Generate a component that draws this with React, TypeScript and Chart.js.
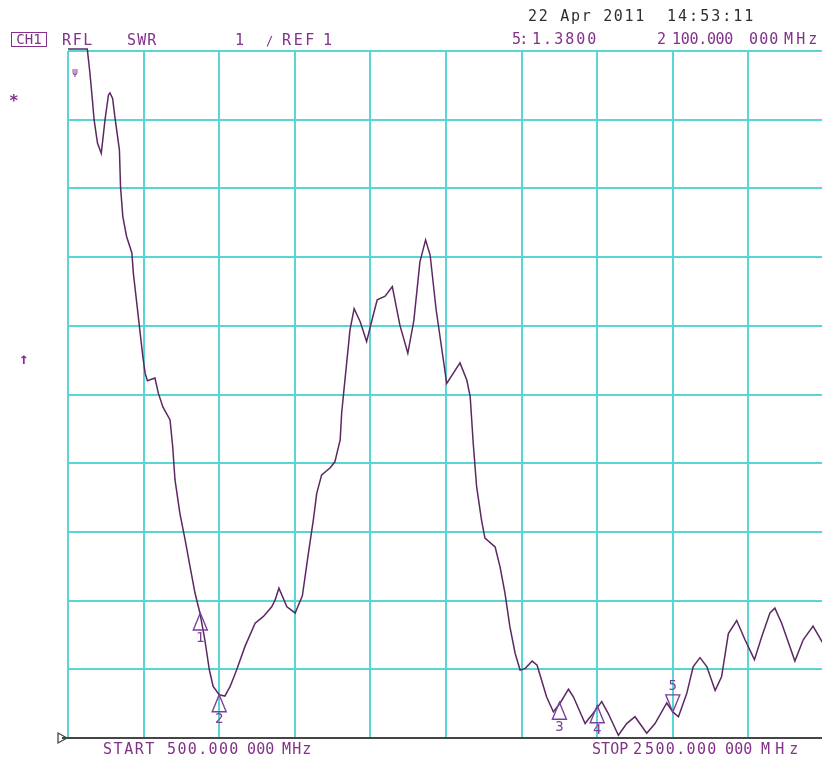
import React, { useEffect, useRef } from "react";
import { Chart, registerables } from "chart.js";

Chart.register(...registerables);

// ---- DATA ----
const freqMHz = [
  500, 551, 558, 565, 569, 578, 588, 598, 607, 611,
  618, 624, 636, 639, 645, 655, 669, 673, 683, 691,
  698, 704, 710, 730, 739, 751, 770, 777, 783, 796,
  810, 823, 836, 849, 862, 874, 884, 900, 915, 929,
  946, 968, 995, 1017, 1039, 1048, 1058, 1079, 1101, 1120,
  1136, 1149, 1158, 1171, 1193, 1206, 1220, 1224, 1229, 1246,
  1257, 1273, 1290, 1304, 1318, 1339, 1358, 1378, 1399, 1415,
  1431, 1446, 1458, 1474, 1502, 1537, 1555, 1564, 1572, 1581,
  1594, 1603, 1630, 1643, 1656, 1669, 1683, 1696, 1709, 1728,
  1741, 1766, 1784, 1802, 1824, 1837, 1868, 1885, 1912, 1929,
  1956, 1978, 2000, 2031, 2053, 2084, 2100, 2115, 2137, 2154,
  2172, 2190, 2212, 2229, 2247, 2269, 2291, 2316, 2335, 2357,
  2370, 2388, 2423, 2445, 2471, 2495, 2500,
];

const swr = [
  11.03, 11.03, 10.68, 10.26, 10.0, 9.66, 9.51, 10.0, 10.36, 10.39,
  10.31, 10.04, 9.56, 9.02, 8.59, 8.3, 8.06, 7.76, 7.28, 6.89,
  6.55, 6.31, 6.2, 6.24, 6.02, 5.82, 5.63, 5.24, 4.76, 4.27,
  3.88, 3.49, 3.11, 2.82, 2.43, 1.99, 1.75, 1.63, 1.61, 1.75,
  1.99, 2.33, 2.67, 2.77, 2.91, 3.01, 3.18, 2.91, 2.82, 3.07,
  3.69, 4.17, 4.56, 4.83, 4.93, 5.02, 5.34, 5.73, 6.01, 6.94,
  7.25, 7.06, 6.77, 7.08, 7.38, 7.43, 7.57, 7.01, 6.6, 7.08,
  7.93, 8.25, 8.03, 7.23, 6.16, 6.46, 6.21, 5.97, 5.29, 4.66,
  4.17, 3.91, 3.78, 3.49, 3.11, 2.62, 2.23, 1.99, 2.01, 2.12,
  2.06, 1.6, 1.38, 1.51, 1.71, 1.6, 1.21, 1.33, 1.53, 1.36,
  1.04, 1.21, 1.31, 1.07, 1.21, 1.51, 1.38, 1.31, 1.65, 2.04,
  2.17, 2.04, 1.69, 1.89, 2.52, 2.71, 2.43, 2.14, 2.47, 2.82,
  2.89, 2.67, 2.12, 2.43, 2.63, 2.4, 2.33,
];

const markerFreqMHz = [850, 900, 1800, 1900, 2100];
const markerSWR = [2.82, 1.63, 1.52, 1.47, 1.38];
const markerNames = ["1", "2", "3", "4", "5"];
const activeMarker = "5";

const startMHz = 500;
const stopMHz = 2500;
const mhzPerDiv = 200;
const refSWR = 1;
const swrPerDiv = 1;
const yDivisions = 10;

// ---- STYLE ----
const GRID = "#5ad5d5";
const TRACE = "#5c2862";
const PURPLE = "#83318a";
const MARKER = "#7b3f9c";
const DARK = "#2e2e2e";
const MONO = "'DejaVu Sans Mono', 'Liberation Mono', monospace";

const overlayPlugin = {
  id: "vnaOverlay",
  afterDatasetsDraw(chart: any) {
    const { ctx, chartArea } = chart;
    const x = chart.scales.x;
    const y = chart.scales.y;
    ctx.save();
    // bottom reference line
    const by = y.getPixelForValue(refSWR);
    ctx.strokeStyle = "#454545";
    ctx.lineWidth = 2;
    ctx.beginPath();
    ctx.moveTo(chartArea.left - 6, by);
    ctx.lineTo(chartArea.right, by);
    ctx.stroke();
    // reference position triangle
    ctx.lineWidth = 1.3;
    ctx.beginPath();
    ctx.moveTo(chartArea.left - 10, by - 5);
    ctx.lineTo(chartArea.left - 10, by + 5);
    ctx.lineTo(chartArea.left - 1, by);
    ctx.closePath();
    ctx.stroke();

    // markers
    markerFreqMHz.forEach((f, i) => {
      const px = x.getPixelForValue(f);
      const py = y.getPixelForValue(markerSWR[i]);
      const up = markerNames[i] !== activeMarker;
      const h = 17;
      const hw = 7;
      ctx.strokeStyle = MARKER;
      ctx.lineWidth = 1.4;
      ctx.beginPath();
      if (up) {
        ctx.moveTo(px, py);
        ctx.lineTo(px - hw, py + h);
        ctx.lineTo(px + hw, py + h);
      } else {
        ctx.moveTo(px, py);
        ctx.lineTo(px - hw, py - h);
        ctx.lineTo(px + hw, py - h);
      }
      ctx.closePath();
      ctx.stroke();
      ctx.fillStyle = MARKER;
      ctx.font = `14px ${MONO}`;
      ctx.textAlign = "center";
      ctx.textBaseline = "middle";
      ctx.fillText(markerNames[i], px, up ? py + h + 8 : py - h - 9);
    });
    ctx.restore();
  },
};

type LabelProps = {
  text: string;
  x: number;
  cy: number;
  w?: number;
  color?: string;
  size?: number;
  bold?: boolean;
};

function Label({ text, x, cy, w, color = PURPLE, size = 15, bold = false }: LabelProps) {
  const adv = 0.602 * size;
  const n = text.length;
  let ls = 0;
  if (w !== undefined && n > 1) {
    ls = (w - 0.85 * adv) / (n - 1) - adv;
  }
  return (
    <span
      style={{
        position: "absolute",
        left: x,
        top: cy - 0.48 * size,
        fontFamily: MONO,
        fontSize: size,
        lineHeight: `${size}px`,
        letterSpacing: `${ls}px`,
        whiteSpace: "pre",
        color,
        fontWeight: bold ? "bold" : "normal",
      }}
    >
      {text}
    </span>
  );
}

export default function App() {
  const canvasRef = useRef<HTMLCanvasElement | null>(null);

  useEffect(() => {
    if (!canvasRef.current) return;
    const points = freqMHz.map((f, i) => ({ x: f, y: swr[i] }));
    const chart = new Chart(canvasRef.current, {
      type: "line",
      data: {
        datasets: [
          {
            label: "SWR",
            data: points,
            borderColor: TRACE,
            borderWidth: 1.5,
            pointRadius: 0,
            tension: 0,
            fill: false,
            clip: false as any,
          },
        ],
      },
      options: {
        responsive: false,
        maintainAspectRatio: false,
        animation: false,
        events: [],
        layout: { padding: { left: 68, top: 51, right: 4, bottom: 20 } },
        plugins: {
          legend: { display: false },
          tooltip: { enabled: false },
          title: { display: false },
        },
        scales: {
          x: {
            type: "linear",
            min: startMHz,
            max: stopMHz,
            ticks: { display: false, stepSize: mhzPerDiv, autoSkip: false, maxTicksLimit: 30 },
            grid: { color: GRID, lineWidth: 2, drawTicks: false },
            border: { display: false },
          },
          y: {
            type: "linear",
            min: refSWR,
            max: refSWR + yDivisions * swrPerDiv,
            ticks: { display: false, stepSize: swrPerDiv, autoSkip: false, maxTicksLimit: 30 },
            grid: { color: GRID, lineWidth: 2, drawTicks: false },
            border: { display: false },
          },
        },
      },
      plugins: [overlayPlugin],
    });
    return () => chart.destroy();
  }, []);

  return (
    <div
      style={{
        position: "fixed",
        left: 0,
        top: 0,
        width: 822,
        height: 758,
        overflow: "hidden",
        background: "#ffffff",
      }}
    >
      <canvas ref={canvasRef} width={828} height={758} style={{ position: "absolute", left: 0, top: 0 }} />
      {/* header */}
      <Label text="22 Apr 2011" x={528} cy={16} w={115} color={DARK} />
      <Label text="14:53:11" x={667} cy={16} w={85} color={DARK} />
      <span
        style={{
          position: "absolute",
          left: 11,
          top: 32,
          width: 36,
          height: 15,
          boxSizing: "border-box",
          border: `1.5px solid ${PURPLE}`,
          color: PURPLE,
          fontFamily: MONO,
          fontSize: 14,
          lineHeight: "12px",
          textAlign: "center",
          letterSpacing: "0px",
        }}
      >
        CH1
      </span>
      <Label text="RFL" x={62} cy={40} w={29} />
      <Label text="SWR" x={127} cy={40} w={28} />
      <Label text="1" x={235} cy={40} />
      <Label text="/" x={266} cy={41} size={12} />
      <Label text="REF" x={282} cy={40} w={31} />
      <Label text="1" x={323} cy={40} />
      <Label text="5:" x={512} cy={39} w={15} />
      <Label text="1.3800" x={532} cy={39} w={63} />
      <Label text="2" x={657} cy={39} />
      <Label text="100.000" x={672} cy={39} w={60} />
      <Label text="000" x={749} cy={39} w={28} />
      <Label text="MHz" x={784} cy={39} w={32} />
      {/* left symbols */}
      <Label text="*" x={9} cy={101} size={16} bold />
      <Label text="↑" x={19} cy={359} size={16} bold />
      <Label text="ψ" x={72} cy={72} size={10} />
      {/* footer */}
      <Label text="START" x={103} cy={749} w={50} />
      <Label text="500.000" x={167} cy={749} w={70} />
      <Label text="000" x={247} cy={749} w={26} />
      <Label text="MHz" x={282} cy={749} w={28} />
      <Label text="STOP" x={592} cy={749} w={35} />
      <Label text="2" x={633} cy={749} />
      <Label text="500.000" x={645} cy={749} w={70} />
      <Label text="000" x={725} cy={749} w={26} />
      <Label text="MHz" x={761} cy={749} w={36} />
    </div>
  );
}
